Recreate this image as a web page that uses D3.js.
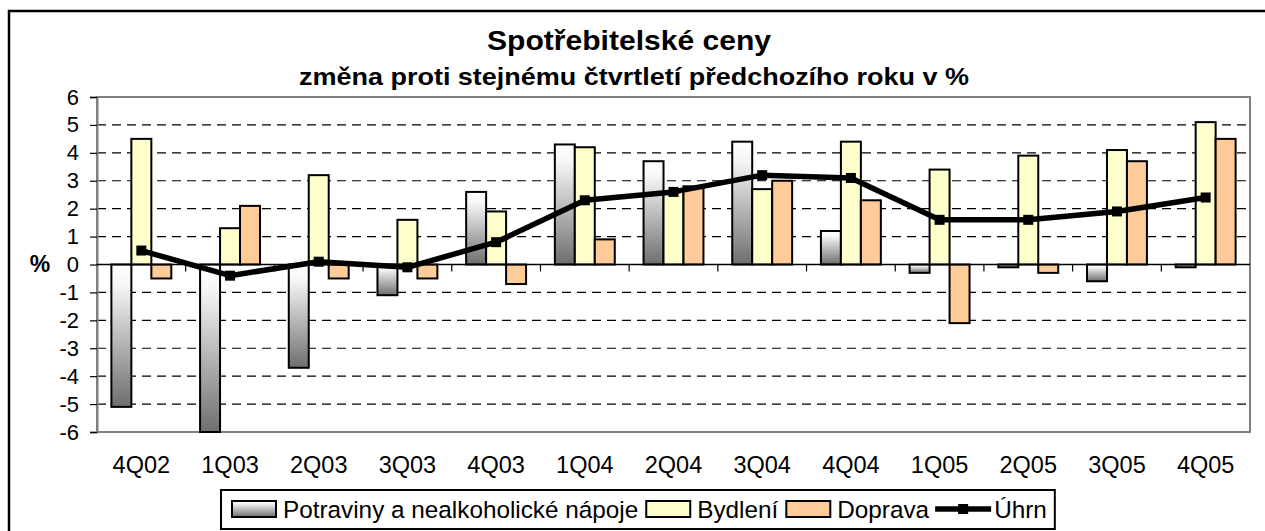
<!DOCTYPE html>
<html>
<head>
<meta charset="utf-8">
<script src="https://cdn.jsdelivr.net/npm/d3@7"></script>
<style>
  body { margin: 0; background: #fff; }
  svg { display: block; }
  text { font-family: Arial, "Liberation Sans", sans-serif; fill: #000; }
</style>
</head>
<body>
<svg id="chart" width="1265" height="531"></svg>
<script>
// data
const quarters = ["4Q02", "1Q03", "2Q03", "3Q03", "4Q03", "1Q04", "2Q04", "3Q04", "4Q04", "1Q05", "2Q05", "3Q05", "4Q05"];
const potraviny = [-5.1, -6.0, -3.7, -1.1, 2.6, 4.3, 3.7, 4.4, 1.2, -0.3, -0.1, -0.6, -0.1];
const bydleni = [4.5, 1.3, 3.2, 1.6, 1.9, 4.2, 2.6, 2.7, 4.4, 3.4, 3.9, 4.1, 5.1];
const doprava = [-0.5, 2.1, -0.5, -0.5, -0.7, 0.9, 2.8, 3.0, 2.3, -2.1, -0.3, 3.7, 4.5];
const uhrn = [0.5, -0.4, 0.1, -0.1, 0.8, 2.3, 2.6, 3.2, 3.1, 1.6, 1.6, 1.9, 2.4];
const yTicks = [-6, -5, -4, -3, -2, -1, 0, 1, 2, 3, 4, 5, 6];

const seriesNames = ["Potraviny a nealkoholické nápoje", "Bydlení", "Doprava"];
const seriesValues = [potraviny, bydleni, doprava];
const seriesFill = ["url(#gradPotr)", "#FFFFCC", "#FFCC99"];
const lineName = "Úhrn";

const plot = { left: 97, right: 1250, top: 97, bottom: 432 };

const svg = d3.select("#chart");

// gradient for the food series (white on top, grey at the bottom)
const defs = svg.append("defs");
const grad = defs.append("linearGradient")
  .attr("id", "gradPotr")
  .attr("x1", 0).attr("y1", 0).attr("x2", 0).attr("y2", 1);
grad.append("stop").attr("offset", 0).attr("stop-color", "#ffffff");
grad.append("stop").attr("offset", 0.15).attr("stop-color", "#f6f6f6");
grad.append("stop").attr("offset", 1).attr("stop-color", "#6e6e6e");

// outer frame
svg.append("rect")
  .attr("x", 9).attr("y", 11).attr("width", 1400).attr("height", 700)
  .attr("fill", "none").attr("stroke", "#000").attr("stroke-width", 2.5);

// titles (the reference is stretched sideways, so widths are forced)
svg.append("text")
  .attr("x", 629).attr("y", 50)
  .attr("text-anchor", "middle")
  .attr("textLength", 284).attr("lengthAdjust", "spacingAndGlyphs")
  .style("font-size", "27px").style("font-weight", "bold")
  .text("Spotřebitelské ceny");
svg.append("text")
  .attr("x", 634).attr("y", 85)
  .attr("text-anchor", "middle")
  .attr("textLength", 670).attr("lengthAdjust", "spacingAndGlyphs")
  .style("font-size", "23px").style("font-weight", "bold")
  .text("změna proti stejnému čtvrtletí předchozího roku v %");

const x = d3.scaleBand().domain(quarters).range([plot.left, plot.right]).padding(0);
const x1 = d3.scaleBand().domain(d3.range(seriesNames.length))
  .range([0, x.bandwidth()]).paddingInner(0).paddingOuter(0.72);
const y = d3.scaleLinear().domain([-6, 6]).range([plot.bottom, plot.top]);

// dashed grid
svg.append("g")
  .selectAll("line")
  .data(yTicks.filter(d => d !== 0 && Math.abs(d) !== 6))
  .join("line")
  .attr("x1", plot.left).attr("x2", plot.right)
  .attr("y1", d => y(d)).attr("y2", d => y(d))
  .attr("stroke", "#000").attr("stroke-width", 1.2)
  .attr("stroke-dasharray", "9,6");

// plot frame
svg.append("rect")
  .attr("x", plot.left).attr("y", plot.top)
  .attr("width", plot.right - plot.left).attr("height", plot.bottom - plot.top)
  .attr("fill", "none").attr("stroke", "#808080").attr("stroke-width", 2);

// y axis
const yAxis = svg.append("g")
  .attr("transform", `translate(${plot.left},0)`)
  .call(d3.axisLeft(y).tickValues(yTicks).tickSize(7).tickPadding(11).tickFormat(d => String(d)));
yAxis.select(".domain").attr("stroke", "#808080").attr("stroke-width", 2);
yAxis.selectAll(".tick line").attr("stroke", "#000").attr("stroke-width", 1.2);
yAxis.selectAll("text").style("font-size", "22px").style("font-family", "Arial, 'Liberation Sans', sans-serif").attr("fill", "#000");

svg.append("text")
  .attr("x", 40).attr("y", 272)
  .attr("text-anchor", "middle")
  .style("font-size", "23px").style("font-weight", "bold")
  .text("%");

// bars
const groups = svg.append("g")
  .selectAll("g")
  .data(quarters)
  .join("g")
  .attr("transform", d => `translate(${x(d)},0)`);

groups.selectAll("rect")
  .data((q, i) => seriesValues.map((vals, s) => ({ s, v: vals[i] })))
  .join("rect")
  .attr("x", d => x1(d.s))
  .attr("width", x1.bandwidth())
  .attr("y", d => y(Math.max(0, d.v)))
  .attr("height", d => Math.abs(y(d.v) - y(0)))
  .attr("fill", d => seriesFill[d.s])
  .attr("stroke", "#000").attr("stroke-width", 2);

// zero line with category ticks
svg.append("line")
  .attr("x1", plot.left).attr("x2", plot.right)
  .attr("y1", y(0)).attr("y2", y(0))
  .attr("stroke", "#000").attr("stroke-width", 1.3);
svg.append("g")
  .selectAll("line")
  .data(quarters.slice(1))
  .join("line")
  .attr("x1", d => x(d)).attr("x2", d => x(d))
  .attr("y1", y(0)).attr("y2", y(0) + 7)
  .attr("stroke", "#000").attr("stroke-width", 1.2);

// x labels
const xAxis = svg.append("g")
  .attr("transform", `translate(0,${plot.bottom})`)
  .call(d3.axisBottom(x).tickSize(0).tickPadding(24));
xAxis.select(".domain").remove();
xAxis.selectAll("text").style("font-size", "23.5px").style("font-family", "Arial, 'Liberation Sans', sans-serif").attr("fill", "#000");

// total line
const cx = q => x(q) + x.bandwidth() / 2;
const line = d3.line().x((d, i) => cx(quarters[i])).y(d => y(d));
svg.append("path")
  .datum(uhrn)
  .attr("d", line)
  .attr("fill", "none").attr("stroke", "#000").attr("stroke-width", 5.5)
  .attr("stroke-linejoin", "round");
svg.append("g")
  .selectAll("rect")
  .data(uhrn)
  .join("rect")
  .attr("x", (d, i) => cx(quarters[i]) - 5)
  .attr("y", d => y(d) - 5)
  .attr("width", 10).attr("height", 10)
  .attr("fill", "#000");

// legend
const legend = svg.append("g");
const legendBox = legend.append("rect")
  .attr("y", 490).attr("height", 39)
  .attr("fill", "#fff").attr("stroke", "#000").attr("stroke-width", 2);
const legendItems = seriesNames.map((n, i) => ({ name: n, type: "bar", fill: seriesFill[i] }))
  .concat([{ name: lineName, type: "line" }]);
let lx = 232;
legendItems.forEach(item => {
  if (item.type === "bar") {
    legend.append("rect")
      .attr("x", lx).attr("y", 501).attr("width", 44).attr("height", 16)
      .attr("fill", item.fill).attr("stroke", "#000").attr("stroke-width", 2);
  } else {
    legend.append("line")
      .attr("x1", lx - 2).attr("x2", lx + 54).attr("y1", 509).attr("y2", 509)
      .attr("stroke", "#000").attr("stroke-width", 5.5);
    legend.append("rect")
      .attr("x", lx + 21).attr("y", 504).attr("width", 10).attr("height", 10)
      .attr("fill", "#000");
  }
  const t = legend.append("text")
    .attr("x", lx + (item.type === "bar" ? 51 : 57)).attr("y", 518)
    .style("font-size", "24.3px")
    .text(item.name);
  lx += (item.type === "bar" ? 51 : 57) + t.node().getComputedTextLength() + 8;
});
legendBox.attr("x", 221).attr("width", lx - 221);
</script>
</body>
</html>
